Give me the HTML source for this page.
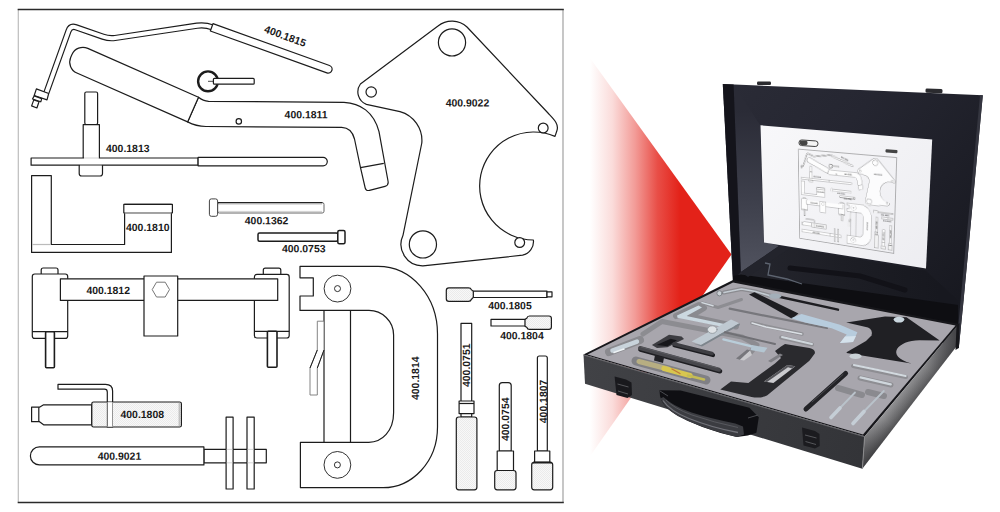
<!DOCTYPE html>
<html><head><meta charset="utf-8">
<style>
html,body{margin:0;padding:0;background:#fff;}
body{width:1000px;height:512px;overflow:hidden;position:relative;}
svg{display:block;}
text{font-family:"Liberation Sans",sans-serif;font-weight:bold;font-size:10.45px;fill:#1a1a1a;text-rendering:geometricPrecision;}
</style></head><body>
<svg width="1000" height="512" viewBox="0 0 1000 512">
<defs>
<pattern id="kn" width="2" height="2" patternUnits="userSpaceOnUse"><rect width="2" height="2" fill="#f8f8f8"/><rect width="1" height="1" fill="#ebebeb"/><rect x="1" y="1" width="1" height="1" fill="#ebebeb"/></pattern>
<g id="diagram" fill="#fff" stroke="#1c1c1c" stroke-width="1.2" stroke-linejoin="round">
<!-- 400.1815 tube -->
<path d="M46.45,92.5 L68.5,31 Q70.5,25.4 76,27.3 L103,36.7 Q109,38.8 115,38 L197,25.7 Q205,24.5 212.5,27.4" fill="none" stroke-width="6.3"/>
<path d="M46.45,92.5 L68.5,31 Q70.5,25.4 76,27.3 L103,36.7 Q109,38.8 115,38 L197,25.7 Q205,24.5 212.5,27.4" fill="none" stroke="#fff" stroke-width="3.9"/>
<g transform="translate(211.65,27.35) rotate(19.75)"><path d="M0,-3.9 L123.8,-3.9 A3.9,3.9 0 0 1 123.8,3.9 L0,3.9 Z"/></g>
<polygon points="36.4,88.9 48.7,93.5 47,99.9 34.2,95.5"/>
<polygon points="34.2,95.9 41.7,98.6 40.8,101.8 32.5,99"/>
<polygon points="33.8,99.9 39,101.8 36.9,108 31.6,105.9"/>
<!-- 400.1811 handle -->
<path d="M198.5,97.2 Q203,101 208.6,101.3 L344,102.3 C360,103 374,112 379,131.7 L388,181 Q388.9,185.5 385,186.3 L369.5,190.3 Q366,191.2 365.2,188 L360.5,167.7 L354.5,139 C352.5,131 348,127.5 341.7,127.3 L206,126.5 Q196,126.3 187.6,121.9 Z"/>
<g transform="translate(198.5,97.2) rotate(23.8)"><path d="M0,0 L-121,0 A12,12 0 0 0 -133,12 L-133,15 A12,12 0 0 0 -121,27 L0,27 Z"/></g>
<line x1="360.5" y1="167.7" x2="383.8" y2="163.4"/>
<circle cx="238.8" cy="121.4" r="2.7" stroke-width="1.2"/>
<circle cx="208" cy="81.3" r="9.9" stroke-width="2.4"/>
<line x1="208" y1="81.3" x2="214" y2="81.3" stroke-width="0.8"/>
<rect x="213.4" y="78.4" width="40.8" height="5.8" rx="1"/>
<!-- 400.1813 -->
<rect x="84.8" y="92" width="12.8" height="32.6" rx="1.5"/>
<rect x="83.2" y="124.6" width="16.2" height="33.9"/>
<path d="M79.2,165.2 L79.2,173.5 Q79.2,176 81.7,176 L100,176 Q102.5,176 102.5,173.5 L102.5,165.2 Z"/>
<rect x="31.1" y="158" width="167" height="7.2"/>
<path d="M198.1,157.4 L323.1,157.4 A4.2,4.2 0 0 1 323.1,165.8 L198.1,165.8 Z"/>
<line x1="84" y1="158" x2="98.8" y2="158" stroke="#fff" stroke-width="1.6"/>
<line x1="80" y1="165.2" x2="101.8" y2="165.2" stroke="#bbb" stroke-width="1"/>
<!-- 400.1810 -->
<path d="M31.6,175.6 L51.3,175.6 L51.3,244.5 L124.6,244.5 L124.6,204.4 L171.4,204.4 L171.4,252.4 L31.6,252.4 Z"/>
<rect x="123.8" y="204.4" width="48.6" height="8.4"/>
<line x1="124.6" y1="212.8" x2="171.4" y2="212.8" stroke="#bbb"/>
<line x1="32.2" y1="244.5" x2="50.7" y2="244.5" stroke="#bbb"/>
<!-- 400.1362 -->
<rect x="217.6" y="202.6" width="106.4" height="10.4" rx="1.8" stroke="#666" stroke-width="1"/>
<line x1="218" y1="204.2" x2="322" y2="204.2" stroke="#c4c4c4" stroke-width="0.8"/>
<line x1="218" y1="211.4" x2="322" y2="211.4" stroke="#c4c4c4" stroke-width="0.8"/>
<line x1="217.6" y1="202.6" x2="322.4" y2="202.6" stroke="#222" stroke-width="1.4"/>
<rect x="209.4" y="198.9" width="8.2" height="17.4" rx="2" stroke="#444" stroke-width="1"/>
<!-- 400.0753 -->
<rect x="258" y="232.9" width="79.8" height="8.4" rx="1.5" stroke-width="1.5"/>
<rect x="337.8" y="230.5" width="7.2" height="13.2" rx="1.5" stroke-width="1.5"/>
<!-- 400.9022 plate -->
<path d="M438,26 A22,22 0 0 1 467,27 L548,113 C553,118.3 559.5,124 556.8,131 L555,136.4 A54,54 0 1 0 533.4,240 A14,14 0 0 1 522.6,255.2 L423,265.8 A21.5,21.5 0 0 1 403,235.3 L421.8,143 A30,30 0 0 0 400,111.6 L366.4,104.4 A13.5,13.5 0 0 1 360.4,84 Z"/>
<circle cx="452" cy="42.4" r="13.6"/>
<circle cx="371.2" cy="92" r="5.2"/>
<circle cx="543.2" cy="128" r="4.9"/>
<circle cx="422.9" cy="244.4" r="13.6"/>
<circle cx="519.7" cy="242.5" r="4.9"/>
<!-- 400.1812 -->
<path d="M41.2,274 L41.2,270 Q41.2,268 43.2,268 L56,268 Q58,268 58,270 L58,274"/>
<rect x="32.3" y="274" width="35.4" height="64.4" rx="2.5"/>
<line x1="32.3" y1="331.7" x2="67.7" y2="331.7"/>
<rect x="45.6" y="331.7" width="8.8" height="36" rx="1" stroke-width="1.6"/>
<path d="M263.3,274.4 L263.3,270.2 Q263.3,268.2 265.3,268.2 L278.8,268.2 Q280.8,268.2 280.8,270.2 L280.8,274.4"/>
<rect x="254.4" y="274.4" width="34.8" height="63.6" rx="2.5"/>
<line x1="254.4" y1="331.3" x2="289.2" y2="331.3"/>
<rect x="267.4" y="331.3" width="9.6" height="36" rx="1" stroke-width="1.6"/>
<rect x="60.4" y="278.8" width="217.3" height="21.6"/>
<rect x="144" y="276" width="33.7" height="60"/>
<polygon points="152.2,289.6 156.5,282.2 165.2,282.2 169.5,289.6 165.2,297 156.5,297" stroke="#777" stroke-width="1"/>
<!-- 400.1814 C clamp -->
<path d="M300,266.3 L378,266.3 C412,266.3 437.5,297 437.5,334 L437.5,427 C437.5,462 412,487.7 383,487.7 L300.4,487.7 L300.4,442.3 L368.8,442.3 C382,442.3 393.6,431 393.6,412.8 L393.6,335 C393.6,321 382,310.4 369,310.4 L300,310.4 L300,296 L313.3,296 L313.3,277.8 L300,277.8 Z"/>
<line x1="324" y1="310.4" x2="324" y2="442.3"/>
<line x1="350.5" y1="310.4" x2="350.5" y2="442.3"/>
<circle cx="337.5" cy="288.6" r="13.4" stroke-width="0.9"/>
<circle cx="337.5" cy="288.6" r="3" stroke-width="0.9"/>
<circle cx="337.4" cy="464.9" r="13.4" stroke-width="0.9"/>
<circle cx="337.4" cy="464.9" r="3" stroke-width="0.9"/>
<path d="M317.3,321.2 L324,321.2 L324,350 L317.3,368 L317.3,395 L310,395 L310,368 L317.3,350 Z" stroke="#777" stroke-width="0.9"/>
<path d="M324,350 L317.3,368 M317.3,350 L310,368" fill="none" stroke-width="1"/>
<!-- 400.1808 -->
<path d="M58,384.4 L105.5,384.4 Q112.6,384.4 112.6,391 L112.6,427 L107.3,427 L107.3,392 Q107.3,389.2 104.5,389.2 L58,389.2 Z"/>
<path d="M43.6,404.8 L91.7,404.8 L91.7,424.8 L43.6,424.8 L39.5,421.7 L31.6,421.7 L31.6,407.2 L39.5,407.2 Z"/>
<line x1="38.8" y1="407.2" x2="38.8" y2="421.7"/>
<rect x="91.8" y="402" width="89.6" height="25" rx="1.8" fill="url(#kn)"/>
<rect x="107.3" y="402.3" width="5.2" height="24.3" fill="#fff" stroke="none"/>
<line x1="107.3" y1="402.3" x2="107.3" y2="426.6" stroke="#555" stroke-width="1"/>
<line x1="112.5" y1="402.3" x2="112.5" y2="426.6" stroke="#888" stroke-width="0.9"/>
<line x1="179.2" y1="402.6" x2="179.2" y2="426.4" stroke="#999" stroke-width="0.8"/>
<!-- 400.9021 -->
<rect x="203.9" y="449.4" width="62.4" height="13.4"/>
<path d="M203.9,446.9 L39.4,446.9 A9,9 0 0 0 39.4,464.9 L203.9,464.9 Z"/>
<rect x="226.1" y="417.2" width="7" height="71.8"/>
<rect x="247" y="417.2" width="7.2" height="71.8"/>
<g stroke="#ccc" stroke-width="0.8"><line x1="226.7" y1="449.4" x2="232.5" y2="449.4"/><line x1="226.7" y1="462.8" x2="232.5" y2="462.8"/><line x1="247.6" y1="449.4" x2="253.6" y2="449.4"/><line x1="247.6" y1="462.8" x2="253.6" y2="462.8"/></g>
<!-- 400.1805 -->
<rect x="473" y="291.2" width="74" height="6.3"/>
<rect x="547" y="291.9" width="5" height="4.9"/>
<path d="M448.9,287.9 L468.5,287.9 Q470.8,287.9 471.3,289.6 L473.3,291.4 L473.3,297.4 L471.3,299.5 Q470.8,301.3 468.5,301.3 L448.9,301.3 Q446.3,301.3 446.3,298.7 L446.3,290.5 Q446.3,287.9 448.9,287.9 Z" fill="url(#kn)"/>
<!-- 400.1804 -->
<rect x="491" y="319.4" width="34.5" height="6.6"/>
<path d="M549,316 L529.5,316 Q527.3,316 527,318 L525,319.5 L525,326.2 L527,327.6 Q527.3,329.3 529.5,329.3 L549,329.3 Q551.4,329.3 551.4,326.9 L551.4,318.4 Q551.4,316 549,316 Z" fill="url(#kn)"/>
<!-- 400.0751 -->
<rect x="461" y="323.4" width="10.7" height="78.4"/>
<rect x="459.1" y="401" width="14.9" height="12.6"/>
<line x1="459.1" y1="403.5" x2="474" y2="403.5"/>
<rect x="461" y="413.6" width="10.7" height="3.6"/>
<rect x="456.3" y="417" width="20.6" height="72.8" rx="2.5" fill="url(#kn)"/>
<!-- 400.0754 -->
<path d="M499.3,451 L499.3,385.6 Q499.3,382.6 502.3,382.6 L508.2,382.6 Q511.2,382.6 511.2,385.6 L511.2,451 Z"/>
<rect x="497.2" y="451" width="16.3" height="19.5"/>
<rect x="494.7" y="470.5" width="21.3" height="19.3" rx="2.5" fill="url(#kn)"/>
<!-- 400.1807 -->
<path d="M537.4,451 L537.4,358 Q537.4,356 539.4,356 L545.3,356 Q547.3,356 547.3,358 L547.3,451 Z"/>
<rect x="534.6" y="451" width="15.2" height="11.3"/>
<rect x="531.7" y="462.3" width="21" height="27.5" rx="2.5" fill="url(#kn)"/>
<line x1="533" y1="462.6" x2="551.5" y2="462.6" stroke-width="1.8"/>
<!-- labels -->
<g stroke="none" fill="#1a1a1a">
<text transform="translate(284.6,118.3) rotate(0.03)">400.1811</text>
<text transform="translate(106,152.0) rotate(0.03)">400.1813</text>
<text transform="translate(126,231.1) rotate(0.03)">400.1810</text>
<text transform="translate(244.8,224.3) rotate(0.03)">400.1362</text>
<text transform="translate(282,252.3) rotate(0.03)">400.0753</text>
<text transform="translate(445.7,106.4) rotate(0.03)">400.9022</text>
<text transform="translate(86.4,294.0) rotate(0.03)">400.1812</text>
<text transform="translate(120.5,417.9) rotate(0.03)">400.1808</text>
<text transform="translate(97.7,459.7) rotate(0.03)">400.9021</text>
<text transform="translate(488.2,309.2) rotate(0.03)">400.1805</text>
<text transform="translate(500.2,339.2) rotate(0.03)">400.1804</text>
<text transform="translate(263.5,32.1) rotate(20)">400.1815</text>
<text transform="translate(419.2,400) rotate(-90)">400.1814</text>
<text transform="translate(470,387) rotate(-90)">400.0751</text>
<text transform="translate(509.2,441) rotate(-90)">400.0754</text>
<text transform="translate(546.5,423.2) rotate(-90)">400.1807</text>
</g>
</g>
</defs>
<rect width="1000" height="512" fill="#fff"/>
<!-- frame -->
<line x1="18.3" y1="9" x2="18.3" y2="502.5" stroke="#bdbdbd" stroke-width="1.2"/>
<line x1="563" y1="9" x2="563" y2="502.5" stroke="#bdbdbd" stroke-width="1.7"/>
<line x1="17.7" y1="9.5" x2="563.8" y2="9.5" stroke="#2a2a2a" stroke-width="1.6"/>
<line x1="17.7" y1="502.5" x2="563.8" y2="502.5" stroke="#2a2a2a" stroke-width="1.4"/>
<use href="#diagram"/>
<defs>
<linearGradient id="gRed" gradientUnits="userSpaceOnUse" x1="590" y1="0" x2="680" y2="0">
<stop offset="0" stop-color="#e32219" stop-opacity="0"/><stop offset="0.25" stop-color="#e32219" stop-opacity="0.16"/><stop offset="0.5" stop-color="#e32219" stop-opacity="0.45"/><stop offset="0.75" stop-color="#e32219" stop-opacity="0.8"/><stop offset="1" stop-color="#e32219" stop-opacity="1"/></linearGradient>
<linearGradient id="gLid" gradientUnits="userSpaceOnUse" x1="730" y1="90" x2="975" y2="300">
<stop offset="0" stop-color="#2a2b36"/><stop offset="0.35" stop-color="#252631"/><stop offset="1" stop-color="#17181f"/></linearGradient>
<linearGradient id="gLidL" gradientUnits="userSpaceOnUse" x1="745" y1="270" x2="750" y2="110"><stop offset="0" stop-color="#50525e"/><stop offset="0.45" stop-color="#3d3f4b"/><stop offset="1" stop-color="#2a2b36"/></linearGradient>
<linearGradient id="gRefl" gradientUnits="userSpaceOnUse" x1="745" y1="0" x2="940" y2="0"><stop offset="0" stop-color="#25262e"/><stop offset="0.5" stop-color="#1d1e25"/><stop offset="1" stop-color="#17181f"/></linearGradient>
<linearGradient id="gPaper" gradientUnits="userSpaceOnUse" x1="760" y1="125" x2="930" y2="270">
<stop offset="0" stop-color="#f8f8fa"/><stop offset="1" stop-color="#ededf1"/></linearGradient>
<linearGradient id="gFront" gradientUnits="userSpaceOnUse" x1="584" y1="370" x2="864" y2="450">
<stop offset="0" stop-color="#414246"/><stop offset="1" stop-color="#333438"/></linearGradient>
<linearGradient id="gSide" gradientUnits="userSpaceOnUse" x1="910" y1="381" x2="928" y2="396">
<stop offset="0" stop-color="#98989a"/><stop offset="0.45" stop-color="#707072"/><stop offset="1" stop-color="#38383a"/></linearGradient>
<linearGradient id="gSide2" gradientUnits="userSpaceOnUse" x1="864" y1="450" x2="957" y2="335">
<stop offset="0" stop-color="#2a2a2e" stop-opacity="0.35"/><stop offset="0.25" stop-color="#2a2a2e" stop-opacity="0"/><stop offset="0.7" stop-color="#2a2a2e" stop-opacity="0.1"/><stop offset="1" stop-color="#2a2a2e" stop-opacity="0.7"/></linearGradient>
<clipPath id="cFoam"><polygon points="587.5,354.6 733,282 955.5,325.5 863,434.5"/></clipPath>
<clipPath id="cPaper"><polygon points="760.5,125.3 932.2,139.5 926,268.6 764,242.5"/></clipPath>
</defs>
<g id="photo">
<!-- red arrow -->
<polygon points="588,55.2 731.5,254.5 588,459" fill="url(#gRed)"/>
<!-- lid -->
<polygon points="722.8,84 982.8,95.3 963.6,300 958.8,348 733,282" fill="url(#gLid)"/>
<polygon points="733.6,84.5 760,125 763.6,241.5 779,246 741,272" fill="url(#gLidL)"/>
<polygon points="722.8,84 733.6,84.5 741,284 733,282" fill="#14141b"/>
<polygon points="982.8,95.3 980,95.2 960.6,300 956.5,346 958.8,348 963.6,300" fill="#34353f"/>
<rect x="757" y="81.6" width="14" height="3.4" rx="1.2" fill="#2b2b2f"/>
<rect x="925.5" y="88.8" width="17" height="4.2" rx="1.4" fill="#2b2b2f" transform="rotate(2.5 934 91)"/>
<!-- paper -->
<polygon points="760.5,125.3 932.2,139.5 926,268.6 764,242.5" fill="url(#gPaper)"/>

<rect x="799" y="140.4" width="19" height="5.6" rx="2.6" fill="#f4f4f4" stroke="#333" stroke-width="0.9" transform="rotate(4 808 143)"/>
<rect x="799.6" y="141" width="8" height="4.4" rx="2" fill="#444" transform="rotate(4 808 143)"/>
<rect x="885.5" y="149.6" width="12" height="3.2" rx="1" fill="#444" transform="rotate(5 891 151)"/>
<!-- lid lower interior reflection -->
<polygon points="741,272 779,246 925.6,270.5 958,300 958,346 733,282 738,275" fill="url(#gRefl)"/>
<polygon points="733,276 741,274.5 958,305 958,327 733,283" fill="#0e0e12"/>
<polygon points="741,272 779,246 790,248 748,277" fill="#23242c"/>
<path d="M765,263 L770,264 L768,275 L787,279 L802,284" fill="none" stroke="#5d6470" stroke-width="1.3"/>
<path d="M790,268 L860,276 L905,290" fill="none" stroke="#121218" stroke-width="5" stroke-linecap="round"/>
<!-- tray -->
<polygon points="583.5,354.5 733,280 959,324 864.8,436.3" fill="#17171b"/>
<polygon points="587.5,354.6 733,282.6 955.5,325.5 863,434.5" fill="#a8a6ad"/>
<polygon points="583.5,354.5 864.8,436.3 862.3,468.8 585,383.7" fill="url(#gFront)"/>
<polygon points="864.8,436.3 957.5,325.8 955.6,347.6 862.3,468.8" fill="url(#gSide)"/>
<polygon points="864.8,436.3 957.5,325.8 955.6,347.6 862.3,468.8" fill="url(#gSide2)"/>
<line x1="583.5" y1="355" x2="864.8" y2="436.8" stroke="#6a6a6e" stroke-width="0.9"/>
<line x1="864.6" y1="436.5" x2="862.4" y2="468.6" stroke="#8a8a8c" stroke-width="1"/>
<g clip-path="url(#cFoam)">
<!-- tools go here -->
<g stroke-linecap="round" stroke-linejoin="round" fill="none">
<!-- recess shadows (darker foam) -->
<path d="M724,292.5 L741.5,289 L755.5,291.5 L771,296" stroke="#8b8b90" stroke-width="4"/>
<path d="M729.7,308.7 L827,328" stroke="#77777c" stroke-width="2.2"/>
<path d="M676,316 L699,305 L704,308 L690,316.5 L736,326.5" stroke="#8a8a8f" stroke-width="6"/>
<path d="M643,334 L662,321.5 L742,337 L757,345 L750,353" stroke="#8c8c91" stroke-width="5"/>
<path d="M609,352 L640,340" stroke="#8a8a8f" stroke-width="8"/>
<path d="M636,361 L706,380" stroke="#808085" stroke-width="9"/>
<path d="M838,388 L862,395 M868,392 L884,396" stroke="#8a8a8f" stroke-width="6"/>
<path d="M853,366 L906,377" stroke="#8e8e93" stroke-width="4"/>
<path d="M860,378 L891,385" stroke="#8e8e93" stroke-width="5"/>
<path d="M752,323 L802,334" stroke="#909095" stroke-width="3.5"/>
<path d="M781,337.5 L812,344.5" stroke="#909095" stroke-width="4"/>

<path d="M702,303 L718,307.5 L741.5,299.5" stroke="#8d8d92" stroke-width="3"/><path d="M702,302.6 L713,305.8" stroke="#d3dae0" stroke-width="1.5"/>
<!-- silver wire / tube 1815 -->
<path d="M724,292.5 L741.5,289 L755.5,291.5 L771,296" stroke="#c3cbd2" stroke-width="1.6"/>
<circle cx="719.5" cy="293.3" r="2.6" fill="#c9cfd4" stroke="#70757a" stroke-width="0.8"/>
<path d="M778,296.5 L838,309.7" stroke="#1d1d21" stroke-width="2.4"/>
<ellipse cx="775" cy="296.2" rx="6.2" ry="2.6" fill="#a3afb9" stroke="none"/>
<!-- L bracket -->
<polygon points="677,315.5 698.5,305.5 702,307.5 686.5,316 735,326.3 733,329 677.5,317.8" fill="#cbd8e0" stroke="none"/>
<!-- bar with bolt -->
<polygon points="691.6,341.6 731,319.5 739.4,323.3 701,345" fill="#bfc9d1" stroke="none"/>
<polygon points="693,343.5 702,346.5 740,325 739.4,323.3 701,345" fill="#7d858c" stroke="none"/>
<ellipse cx="712.3" cy="329.6" rx="4.8" ry="3.8" fill="#dfe3e6" stroke="#8d949a" stroke-width="0.8"/>
<!-- small black clamp -->
<polygon points="651.9,345 669,334.8 681.6,336.4 684,339 674,344 667.5,347.2 657,348" fill="#3c3c41" stroke="none"/><polygon points="656.6,345 670.6,338.8 677,340.3 667.5,346.3" fill="#17171b" stroke="none"/>
<path d="M674.5,345.3 L713,355" stroke="#1c1c20" stroke-width="4.2"/><path d="M674,344 L712,353.5" stroke="#3e3e43" stroke-width="3.6"/>
<path d="M640.5,349.5 L720,371.2" stroke="#1e1e22" stroke-width="4.6"/><path d="M640,348 L719,369.7" stroke="#47474c" stroke-width="4"/>
<path d="M641,347 L717,367.8" stroke="#5a5a5f" stroke-width="1"/>
<!-- bolt left -->
<path d="M612.4,350.6 L637,341.6" stroke="#c8d3db" stroke-width="4.4"/>
<path d="M614,352.5 L624,349" stroke="#eef3f6" stroke-width="1.6"/>
<!-- yellow tool -->
<path d="M639,361.5 L668,369" stroke="#b7ae82" stroke-width="5"/>
<path d="M664,368.5 L690,375.5" stroke="#d7c64f" stroke-width="5.2"/>
<path d="M688,375.5 L704,379.5" stroke="#c4bb55" stroke-width="2.6"/>
<path d="M672,369 L680,373.5" stroke="#c27a3a" stroke-width="1.4"/>
<polygon points="655,355 664,357.5 663,363 654,360.5" fill="#222226" stroke="none"/>
<!-- big black clamp -->
<path d="M785,344 L809.4,348 Q815.8,349.6 814.8,353.6 L809.4,360.8 L767,395.6 Q760,398.6 751.6,397 L720.3,389.4 L731,381.5 L748.4,383 L775,363.6 L781,358 L775,351 L781,346.4 Z" fill="#2a2a2e" stroke="none"/>
<polygon points="764,381.5 787.5,365 795.3,366.3 773.4,383" fill="#cbcbcf" stroke="none"/><polygon points="764,381.5 787.5,365 795.3,366.3 792,368.5 788,367.2 767,382" fill="#55555a" stroke="none"/>
<polygon points="768,361 780,353.5 783,355 771,362.5" fill="#7e7e83" stroke="none"/>
<!-- small silver parts -->
<path d="M752,323 L766,327 L801.6,334" stroke="#dadfe4" stroke-width="1.5"/>
<path d="M782,337 L797,340.5 L812,344" stroke="#cfd6dc" stroke-width="2"/>
<path d="M725,332.3 L775,344" stroke="#707075" stroke-width="2"/>
<path d="M723.4,339.4 L751.6,346.4" stroke="#b9cdd9" stroke-width="2.4"/>
<polygon points="752,345 767.5,347.8 764,352.4 750.5,350" fill="#b4c6d2" stroke="none"/>
<polygon points="739.8,359.7 750,350.3 752,355 744,360.6" fill="#c9c9cc" stroke="none"/>
<polygon points="736,358.5 739.8,359.7 750,350.3 747,349.5" fill="#77777c" stroke="none"/>
<!-- black plate 9022 -->
<path d="M846.6,322.6 L885,316.4 L906.5,317.3 L939.7,340.5 L920,340.3 C898,340 884,356 911.4,363.4 L846.6,353 Z" fill="#202024" stroke="none"/>
<path d="M840,321 L868,327.6 Q873,329.5 871.5,335.5 L866,341 L840,356 Z" fill="#a8a6ad" stroke="none"/>
<ellipse cx="899" cy="319.6" rx="5.4" ry="2.9" fill="#c9d6de" stroke="none"/>
<ellipse cx="855.5" cy="356.3" rx="6" ry="2.8" fill="#c9d1d6" stroke="none"/>
<!-- handle tool 1811 -->
<polygon points="749,294.5 754.5,292.2 798.5,313.5 792,318.8" fill="#1d1d21" stroke="none"/>
<polygon points="790.8,318.3 801.6,314 840,324.8 857.4,332.3 853,342 840,343 846.7,334.4 831.7,328.3 806,322.8" fill="#b7ccdd" stroke="none"/>
<polygon points="840,343 853,342 856,336 845,336.5" fill="#d5e2ec" stroke="none"/>
<!-- bottom-right tools -->
<path d="M845.6,373.5 L806,409" stroke="#232327" stroke-width="5"/>
<path d="M843,374.5 L812,402" stroke="#4b4b50" stroke-width="1"/>
<path d="M855,392.5 L840,408" stroke="#b9c2ca" stroke-width="1.8"/>
<path d="M840,408 L831,417.5" stroke="#c5ced6" stroke-width="3.6"/>
<path d="M883.8,391 L864,411.5" stroke="#b9c2ca" stroke-width="1.8"/>
<path d="M864,411.5 L853,423.5" stroke="#c5ced6" stroke-width="3.6"/>
<path d="M853.8,365 L878,370 L905.7,376" stroke="#d2d9df" stroke-width="1.8"/>
<path d="M860.6,377.4 L890.7,384.3" stroke="#cfd6dc" stroke-width="2.4"/>
</g>

</g>
<!-- hinge right -->
<polygon points="956.5,326 959.5,323 958.8,348 955.5,350" fill="#16161a"/>
<!-- latches -->
<path d="M614.6,376.5 L626,379.6 L631.5,382.5 L632,395 L627.5,398 L616.5,395 Z" fill="#19191d"/>
<path d="M617.5,384 L628.5,387 M618,391 L628,394" stroke="#55565a" stroke-width="1"/>
<path d="M802,427.5 L815,431 L819.5,434 L819.7,446 L815,448.5 L803.5,445.5 Z" fill="#1b1b1f"/>
<path d="M805,435 L816.5,438 M805.5,441.5 L816,444.5" stroke="#55565a" stroke-width="1"/>
<!-- handle -->
<path d="M659.5,390.2 L680.6,390.4 L749.4,407.8 L758.8,417.2 L756.4,432.8 L747.8,435.4 L736.9,436.9 Q700,429 675,414 Q662,406 660,396 Z" fill="#0f0f13"/>
<path d="M660.3,398.4 Q667,412 686.9,420.6 Q712,431.5 736.9,436.9 L744,434.4 L743,426.6 L735.3,423.4 Q712,419 691.6,412.5 Q672,405.5 663.4,396.9 Z" fill="#3b3c41"/>
<path d="M663,400.5 Q670,411 689,418.5 Q713,428 738,432.5" fill="none" stroke="#72737a" stroke-width="1.3"/>
<path d="M666,400 Q674,408.5 692,415 Q714,422.5 738,427.5" fill="none" stroke="#5a5b61" stroke-width="0.9"/>
<path d="M660,391 L668,396 M748,418 L758,415" fill="none" stroke="#4a4b50" stroke-width="1"/>
</g>

</svg>
<svg id="mini" width="200" height="102.4" viewBox="0 0 1000 512" style="position:absolute;left:0;top:0;overflow:visible;transform-origin:0 0;transform:matrix3d(0.27483671,-0.032600158,0,-0.00069949341,0.38311219,1.0086634,0,0.00046002115,0,0,1,0,795.27175,147.44926,0,1);opacity:0.78;pointer-events:none"><rect x="18" y="9" width="545" height="493" fill="none" stroke="#444" stroke-width="2.5"/><use href="#diagram"/></svg>
</body></html>
